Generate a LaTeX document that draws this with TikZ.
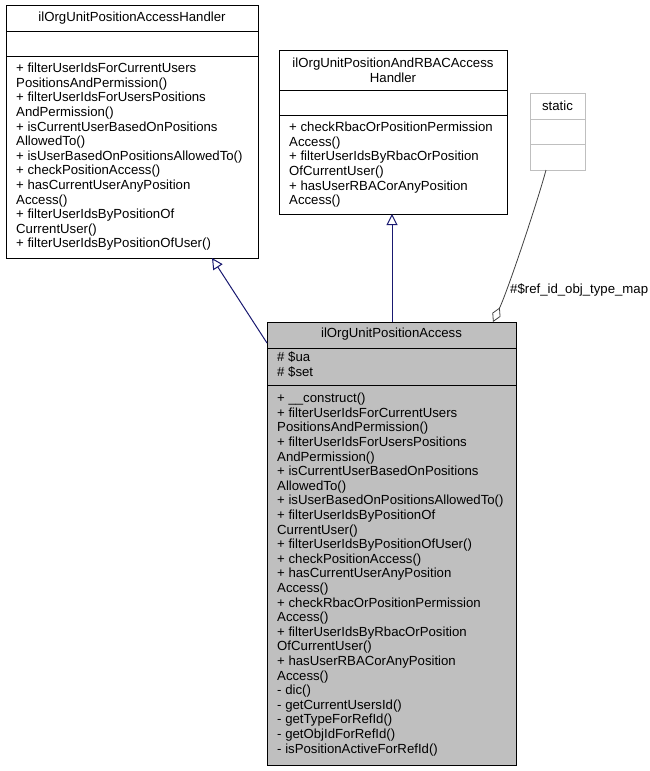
\documentclass[tikz,border=0pt]{standalone}
\usepackage{fontspec}
\setmainfont{Liberation Sans}
\usetikzlibrary{arrows.meta,calc}
\definecolor{navy}{HTML}{191970}
\definecolor{boxgray}{HTML}{BFBFBF}
\definecolor{lgray}{HTML}{BFBFBF}
\definecolor{dgray}{HTML}{404040}
\tikzset{
 cls/.style={draw=black, line width=1pt, anchor=north west, inner sep=0pt, outer sep=0pt},
 txt/.style={anchor=base west, inner sep=0pt, font=\fontsize{13.2}{14.6}\selectfont},
 ttl/.style={anchor=base, inner sep=0pt, font=\fontsize{13.2}{14.6}\selectfont},
 sep/.style={line width=1pt},
 inherit/.style={draw=navy, line width=1pt, -{Triangle[open, length=11pt, width=11pt]}},
 agg/.style={draw=dgray, line width=0.8pt, -{Diamond[open, length=16pt, width=9pt]}}
}
\begin{document}
\begin{tikzpicture}[x=1pt, y=-1pt]
\useasboundingbox (0,0) rectangle (649,771);
% class A
\node[cls, minimum width=252pt, minimum height=253pt] (A) at (6,5) {};
\draw[sep] (6,31) -- (258,31);
\draw[sep] (6,56) -- (258,56);
\node[ttl] (At) at (132,21.7) {ilOrgUnitPositionAccessHandler};
\node[txt] (Am) at (16,72.7) {\parbox[t]{300pt}{+ filterUserIdsForCurrentUsers\\PositionsAndPermission()\\+ filterUserIdsForUsersPositions\\AndPermission()\\+ isCurrentUserBasedOnPositions\\AllowedTo()\\+ isUserBasedOnPositionsAllowedTo()\\+ checkPositionAccess()\\+ hasCurrentUserAnyPosition\\Access()\\+ filterUserIdsByPositionOf\\CurrentUser()\\+ filterUserIdsByPositionOfUser()}};
% class B
\node[cls, minimum width=228pt, minimum height=164pt] (B) at (279,50) {};
\draw[sep] (279,90) -- (507,90);
\draw[sep] (279,115) -- (507,115);
\node[ttl] (Bt) at (393,67.7) {\parbox[t]{226pt}{\centering ilOrgUnitPositionAndRBACAccess\\Handler}};
\node[txt] (Bm) at (289,131.7) {\parbox[t]{300pt}{+ checkRbacOrPositionPermission\\Access()\\+ filterUserIdsByRbacOrPosition\\OfCurrentUser()\\+ hasUserRBACorAnyPosition\\Access()}};
% static
\node[cls, draw=lgray, minimum width=55pt, minimum height=77pt] (S) at (530,93) {};
\draw[sep, lgray] (530,119) -- (585,119);
\draw[sep, lgray] (530,144) -- (585,144);
\node[ttl] (St) at (557.5,110.5) {static};
% class C
\node[cls, fill=boxgray, minimum width=249pt, minimum height=443pt] (C) at (267,322) {};
\draw[sep] (267,348) -- (516,348);
\draw[sep] (267,385) -- (516,385);
\node[ttl] (Ct) at (391.5,337.7) {ilOrgUnitPositionAccess};
\node[txt] (Ca) at (277,361.7) {\parbox[t]{300pt}{\# \$ua\\\# \$set}};
\node[txt] (Cm) at (277,402.7) {\parbox[t]{300pt}{+ \_\_construct()\\+ filterUserIdsForCurrentUsers\\PositionsAndPermission()\\+ filterUserIdsForUsersPositions\\AndPermission()\\+ isCurrentUserBasedOnPositions\\AllowedTo()\\+ isUserBasedOnPositionsAllowedTo()\\+ filterUserIdsByPositionOf\\CurrentUser()\\+ filterUserIdsByPositionOfUser()\\+ checkPositionAccess()\\+ hasCurrentUserAnyPosition\\Access()\\+ checkRbacOrPositionPermission\\Access()\\+ filterUserIdsByRbacOrPosition\\OfCurrentUser()\\+ hasUserRBACorAnyPosition\\Access()\\- dic()\\- getCurrentUsersId()\\- getTypeForRefId()\\- getObjIdForRefId()\\- isPositionActiveForRefId()}};
% connectors
\draw[inherit] ($(C.north west)+(0,21)$) -- ($(A.south west)+(206,0)$);
\draw[inherit] ($(C.north west)+(125,0)$) -- ($(B.south west)+(113,0)$);
\draw[agg] ($(S.south west)+(16,0)$) .. controls (538,200) and (508,290) .. ($(C.north east)+(-23,0)$);
\node[txt] (L) at (510,293.7) {\#\$ref\_id\_obj\_type\_map};
\end{tikzpicture}
\end{document}
